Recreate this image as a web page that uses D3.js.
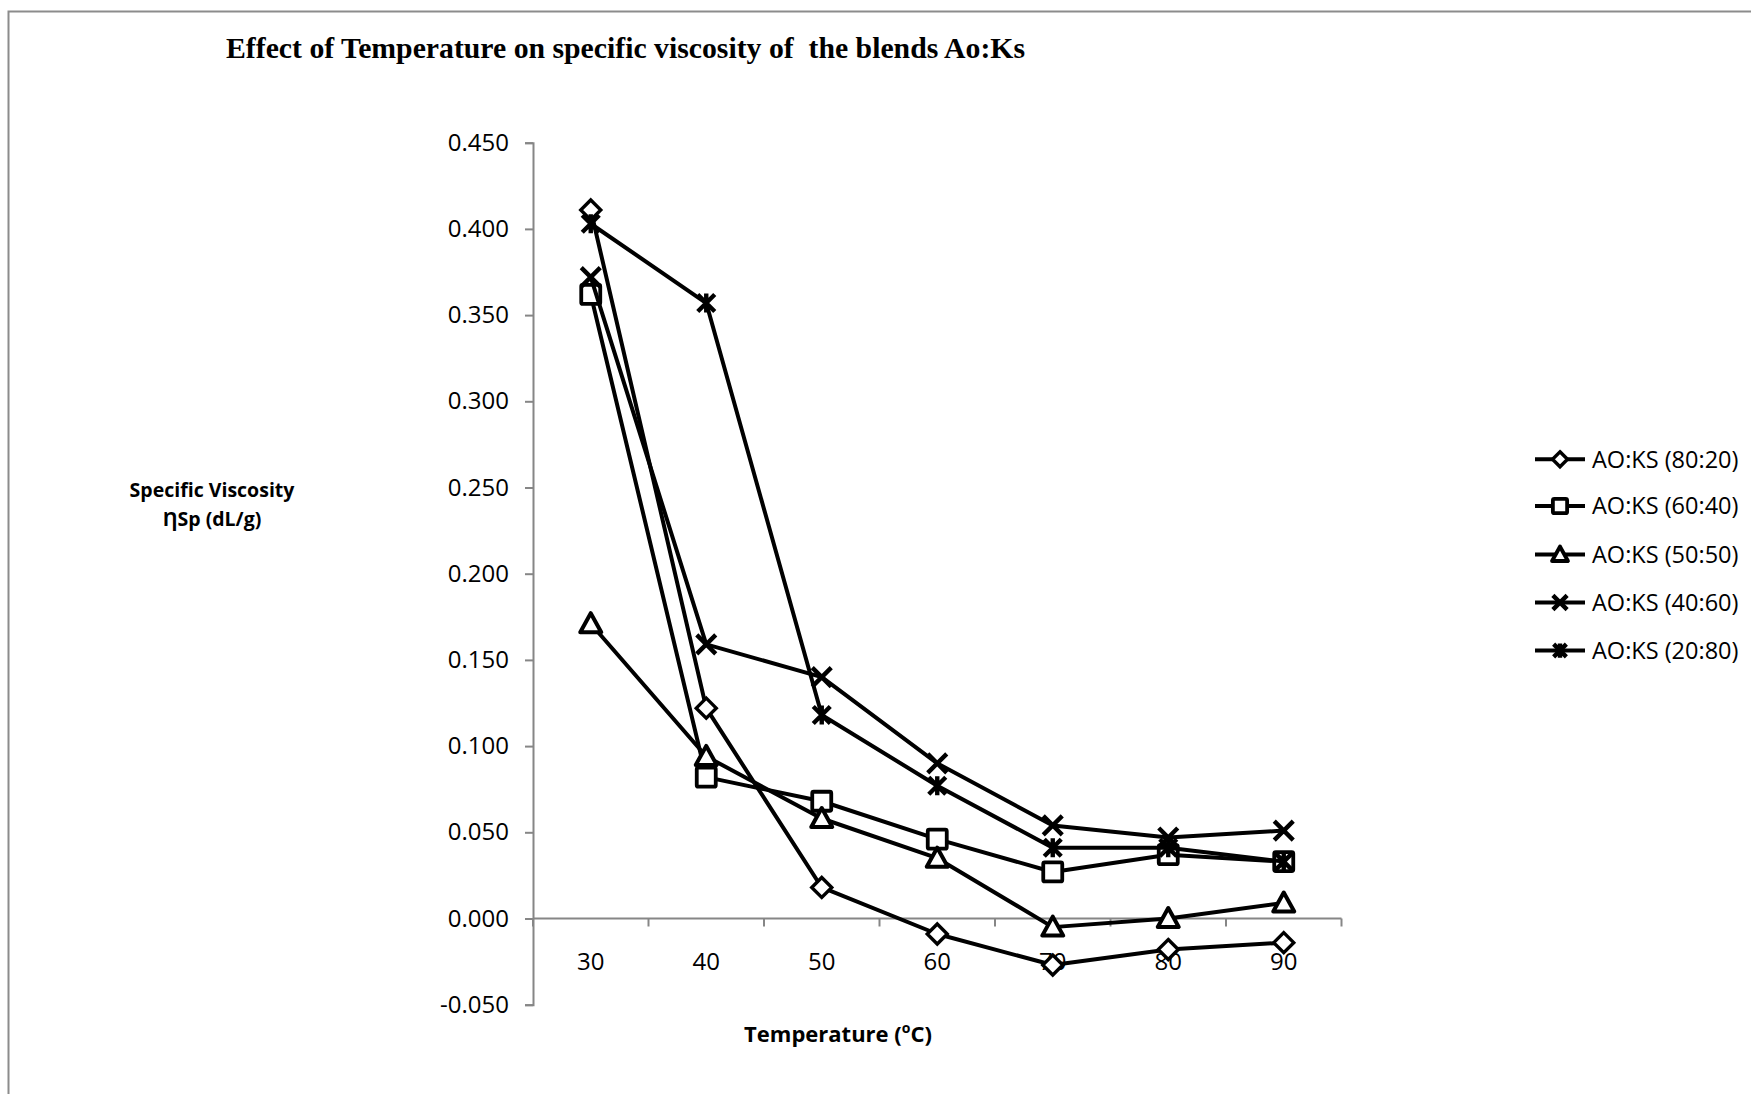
<!DOCTYPE html>
<html>
<head>
<meta charset="utf-8">
<script src="https://cdn.jsdelivr.net/npm/d3@7"></script>
<style>
  html, body { margin: 0; padding: 0; background: #fff; }
  svg { display: block; }
  text { font-family: "Open Sans", "Noto Sans", sans-serif; fill: #000; }
  text.title { font-family: "Liberation Serif", "DejaVu Serif", serif; }
</style>
</head>
<body>
<svg id="chart" width="1751" height="1094"></svg>
<script>
// Temperature (°C) categories
const temperatures = ["30", "40", "50", "60", "70", "80", "90"];

// Specific viscosity (dL/g) per blend ratio
const ao80ks20 = [0.411, 0.122, 0.018, -0.009, -0.027, -0.018, -0.014];
const ao60ks40 = [0.362, 0.082, 0.068, 0.046, 0.027, 0.037, 0.033];
const ao50ks50 = [0.171, 0.094, 0.058, 0.035, -0.005, 0.000, 0.009];
const ao40ks60 = [0.372, 0.159, 0.140, 0.090, 0.054, 0.047, 0.051];
const ao20ks80 = [0.403, 0.357, 0.118, 0.077, 0.041, 0.041, 0.033];

const seriesNames = ["AO:KS (80:20)", "AO:KS (60:40)", "AO:KS (50:50)", "AO:KS (40:60)", "AO:KS (20:80)"];
const seriesValues = [ao80ks20, ao60ks40, ao50ks50, ao40ks60, ao20ks80];
const markerKinds = ["diamond", "square", "triangle", "cross", "star"];

const yTicks = [-0.05, 0, 0.05, 0.1, 0.15, 0.2, 0.25, 0.3, 0.35, 0.4, 0.45];

const svg = d3.select("#chart");

// outer chart frame
svg.append("rect")
  .attr("x", 8.5).attr("y", 11.5)
  .attr("width", 1800).attr("height", 1200)
  .attr("fill", "#fff").attr("stroke", "#8c8c8c").attr("stroke-width", 2);

const x = d3.scaleBand().domain(temperatures).range([533, 1341.5]);
const y = d3.scaleLinear().domain([-0.05, 0.45]).range([1004.7, 142.7]);

const axisColor = "#868686";
const fmt = d3.format(".3f");

// y axis
const yAxis = svg.append("g")
  .attr("transform", `translate(${x.range()[0]},0)`)
  .call(d3.axisLeft(y).tickValues(yTicks)
    .tickFormat(d => fmt(d).replace("\u2212", "-"))
    .tickSize(8).tickPadding(16));
yAxis.select(".domain").attr("stroke", axisColor).attr("stroke-width", 2);
yAxis.selectAll(".tick line").attr("stroke", axisColor).attr("stroke-width", 2);
yAxis.selectAll(".tick text").attr("font-size", 24).attr("fill", "#000");

// x axis at zero, ticks on category boundaries
const y0 = y(0);
const xAxis = svg.append("g");
xAxis.append("line")
  .attr("x1", x.range()[0]).attr("x2", x.range()[1])
  .attr("y1", y0).attr("y2", y0)
  .attr("stroke", axisColor).attr("stroke-width", 2);
const boundaries = temperatures.map(t => x(t)).concat([x.range()[1]]);
xAxis.selectAll("line.tk").data(boundaries).enter().append("line")
  .attr("class", "tk")
  .attr("x1", d => d).attr("x2", d => d)
  .attr("y1", y0).attr("y2", y0 + 8)
  .attr("stroke", axisColor).attr("stroke-width", 2);
xAxis.selectAll("text").data(temperatures).enter().append("text")
  .attr("x", d => x(d) + x.bandwidth() / 2)
  .attr("y", y0 + 43)
  .attr("dy", "0.35em")
  .attr("text-anchor", "middle")
  .attr("font-size", 24)
  .text(d => d);

// titles
svg.append("text")
  .attr("class", "title")
  .attr("x", 226).attr("y", 58)
  .attr("font-weight", "bold").attr("font-size", 30)
  .attr("textLength", 799).attr("lengthAdjust", "spacingAndGlyphs")
  .style("white-space", "pre")
  .text("Effect of Temperature on specific viscosity of  the blends Ao:Ks");

const yTitle = svg.append("text")
  .attr("text-anchor", "middle").attr("font-weight", "bold").attr("font-size", 19.5);
yTitle.append("tspan").attr("x", 212).attr("y", 497).text("Specific Viscosity");
yTitle.append("tspan").attr("x", 212).attr("y", 525.5).text("\u0220Sp (dL/g)");

const xTitle = svg.append("text")
  .attr("x", 838).attr("y", 1042)
  .attr("text-anchor", "middle").attr("font-weight", "bold").attr("font-size", 22);
xTitle.append("tspan").text("Temperature (");
xTitle.append("tspan").attr("font-size", 14).attr("dy", -9).text("o");
xTitle.append("tspan").attr("dy", 9).text("C)");

// marker drawing
function drawMarker(g, kind, cx, cy, k) {
  if (kind === "diamond") {
    g.append("path")
      .attr("d", `M${cx},${cy - 10 * k}L${cx + 10 * k},${cy}L${cx},${cy + 10 * k}L${cx - 10 * k},${cy}Z`)
      .attr("fill", "#fff").attr("stroke", "#000").attr("stroke-width", 3.4);
  } else if (kind === "square") {
    g.append("rect")
      .attr("x", cx - 9.5 * k).attr("y", cy - 9.5 * k)
      .attr("width", 19 * k).attr("height", 19 * k).attr("rx", 1.5)
      .attr("fill", "#fff").attr("stroke", "#000").attr("stroke-width", 3.8);
  } else if (kind === "triangle") {
    g.append("path")
      .attr("d", `M${cx},${cy - 10.5 * k}L${cx + 10.5 * k},${cy + 8.5 * k}L${cx - 10.5 * k},${cy + 8.5 * k}Z`)
      .attr("fill", "#fff").attr("stroke", "#000").attr("stroke-width", 4)
      .attr("stroke-linejoin", "round");
  } else if (kind === "cross") {
    g.append("path")
      .attr("d", `M${cx - 9.5 * k},${cy - 9.5 * k}L${cx + 9.5 * k},${cy + 9.5 * k}M${cx + 9.5 * k},${cy - 9.5 * k}L${cx - 9.5 * k},${cy + 9.5 * k}`)
      .attr("fill", "none").attr("stroke", "#000").attr("stroke-width", 4.4);
  } else if (kind === "star") {
    g.append("path")
      .attr("d", `M${cx - 8.5 * k},${cy - 8.5 * k}L${cx + 8.5 * k},${cy + 8.5 * k}M${cx + 8.5 * k},${cy - 8.5 * k}L${cx - 8.5 * k},${cy + 8.5 * k}M${cx},${cy - 9.5 * k}L${cx},${cy + 9.5 * k}`)
      .attr("fill", "none").attr("stroke", "#000").attr("stroke-width", 4.4);
  }
}

const line = d3.line()
  .x((d, i) => x(temperatures[i]) + x.bandwidth() / 2)
  .y(d => y(d));

const plot = svg.append("g");
seriesValues.forEach((vals, si) => {
  const g = plot.append("g");
  g.append("path")
    .attr("d", line(vals))
    .attr("fill", "none").attr("stroke", "#000").attr("stroke-width", 4)
    .attr("stroke-linejoin", "round");
  vals.forEach((v, i) => {
    drawMarker(g, markerKinds[si], x(temperatures[i]) + x.bandwidth() / 2, y(v), 1);
  });
});

// legend
const legend = svg.append("g");
const legendRows = [459.3, 506, 554.5, 602.5, 650.5];
seriesNames.forEach((name, si) => {
  const cy = legendRows[si];
  const g = legend.append("g");
  g.append("line")
    .attr("x1", 1535).attr("x2", 1585).attr("y1", cy).attr("y2", cy)
    .attr("stroke", "#000").attr("stroke-width", 4);
  drawMarker(g, markerKinds[si], 1560, cy, 0.75);
  g.append("text")
    .attr("x", 1592).attr("y", cy).attr("dy", "0.35em")
    .attr("font-size", 23.5)
    .text(name);
});
</script>
</body>
</html>
